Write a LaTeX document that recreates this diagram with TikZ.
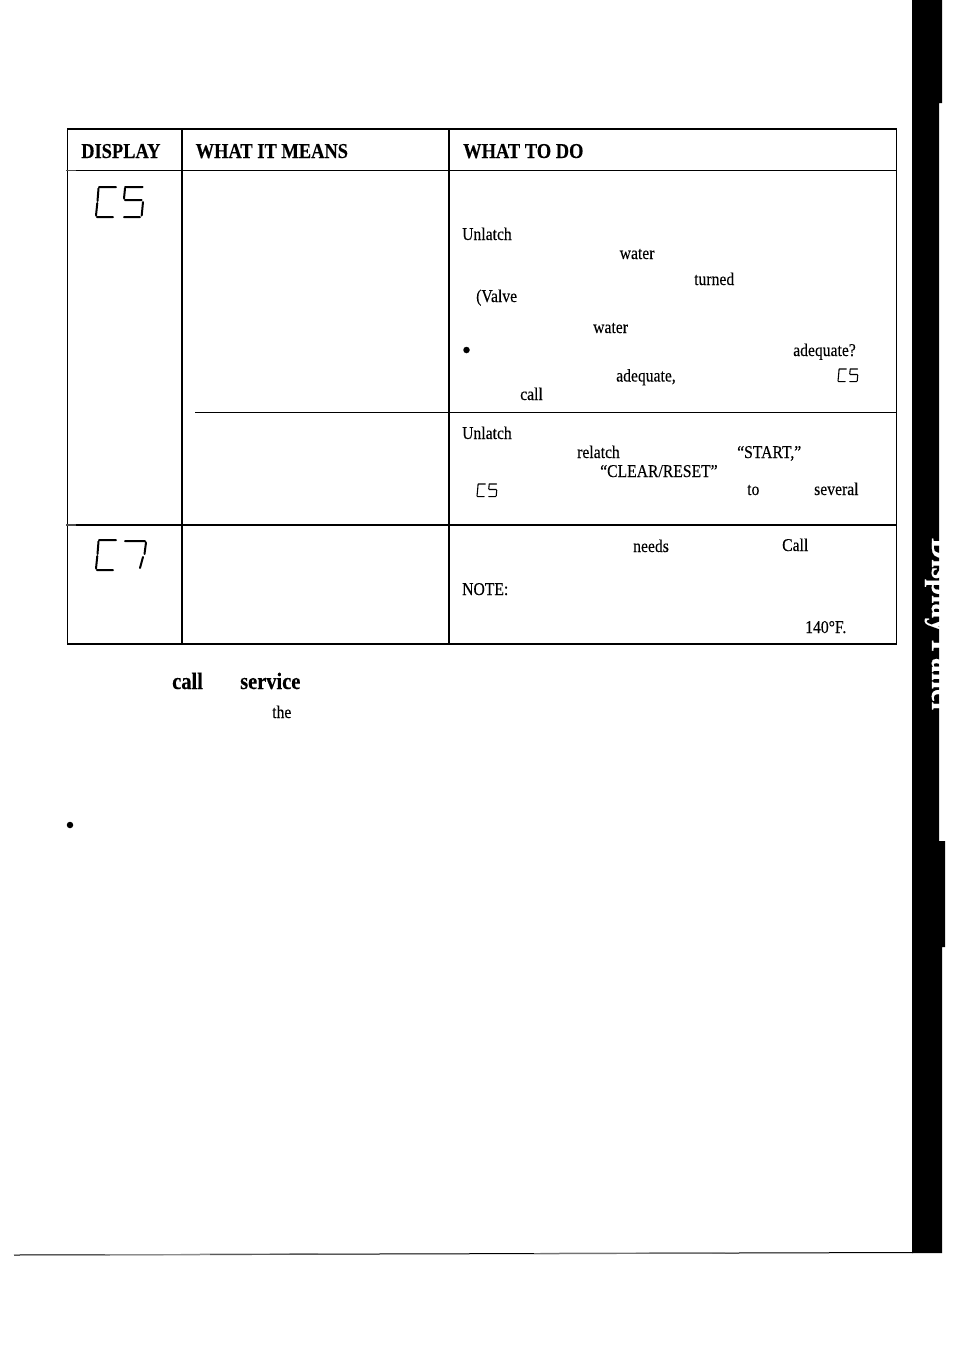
\documentclass[tikz,border=0pt]{standalone}
\usepackage{fontspec}
\setmainfont[FakeStretch=0.87,FakeBold=0.2]{Liberation Serif}
\newcommand{\lcdC}[4]{\begin{scope}[shift={(#1,#2)},scale=#3]
\draw[lcdline,line width=#4] (3,0) -- (20,0) (2.5,1.5) -- (1.5,14) (1.3,16) -- (0,28.5) (1,30) -- (17,30);
\end{scope}}
\newcommand{\lcdS}[4]{\begin{scope}[shift={(#1,#2)},scale=#3]
\draw[lcdline,line width=#4] (29,0) -- (46.7,0) (29,1.5) -- (28,11.5) (29,13) -- (45.7,13) (47,15) -- (45.7,28.5) (44,30) -- (28,30);
\end{scope}}
\begin{document}
\begin{tikzpicture}[x=1pt,y=-1pt,
  lcdline/.style={line cap=round,line join=round},
  bodytext/.style={anchor=base west,inner sep=0pt,font=\fontsize{18}{18}\selectfont},
  headtext/.style={anchor=base west,inner sep=0pt,font=\fontsize{21.2}{21}\selectfont\bfseries},
  bigtext/.style={anchor=base west,inner sep=0pt,font=\fontsize{23.5}{24}\selectfont\bfseries},
  dotmark/.style={circle,fill=black,inner sep=0pt,minimum size=6.5pt}]
\useasboundingbox (0,0) rectangle (954,1345);
% side tab
\fill[black] (912,0) -- (942,0) -- (942,103) -- (939,103) -- (939,841) -- (945,841) -- (945,947) -- (942,947) -- (942,1253) -- (912,1253) -- cycle;
\node[anchor=base west,inner sep=0pt,rotate=-90,text=white,font=\fontsize{33.7}{34}\selectfont\bfseries] (tabtitle) at (932,538) {Display Panel};
% table
\draw[line width=1.8] (67,129) -- (896.5,129);
\draw[line width=1] (67,170.5) -- (896.5,170.5);
\draw[line width=1] (195,412) -- (896.5,412);
\draw[line width=1.8] (67,525) -- (896.5,525);
\draw[line width=1.8] (67,644) -- (896.5,644);
\draw[line width=1] (67.5,129) -- (67.5,645);
\draw[line width=1.8] (182,129) -- (182,644);
\draw[line width=1.8] (449,129) -- (449,644);
\draw[line width=1.2] (896.5,129) -- (896.5,644);
\foreach \y in {170.5,525}
  \draw[line width=1.5,black!70] (66,\y) -- (76,\y);
% header
\node[headtext] (headdisplay) at (81,158) {DISPLAY};
\node[headtext] (headmeans) at (195.5,158) {WHAT IT MEANS};
\node[headtext] (headdo) at (463,158) {WHAT TO DO};
% display codes
\lcdC{96}{187}{1}{2}
\lcdS{96}{187}{1}{2}
\lcdC{96}{540}{1}{2}
\draw[lcdline,line width=2] (125,541) -- (145,541) (146,542.5) -- (144.5,554) (143,557) -- (140,568);
\lcdC{838}{369}{0.42}{1.1}
\lcdS{838}{369}{0.42}{1.1}
\lcdC{477}{484}{0.42}{1.1}
\lcdS{477}{484}{0.42}{1.1}
% first row
\node[bodytext] (unlatcha) at (462,240) {Unlatch};
\node[bodytext] (watera) at (619.5,259) {water};
\node[bodytext] (turned) at (694,285) {turned};
\node[bodytext] (valve) at (476,302) {(Valve};
\node[bodytext] (waterb) at (593,333) {water};
\node[dotmark] (dota) at (466.5,350) {};
\node[bodytext] (adequatea) at (793,356) {adequate?};
\node[bodytext] (adequateb) at (616,381.5) {adequate,};
\node[bodytext] (calla) at (520,400) {call};
% second row
\node[bodytext] (unlatchb) at (462,439) {Unlatch};
\node[bodytext] (relatch) at (577,458) {relatch};
\node[bodytext] (start) at (737,458) {“START,”};
\node[bodytext] (clear) at (600,477) {“CLEAR/RESET”};
\node[bodytext] (towards) at (747,495) {to};
\node[bodytext] (several) at (814,495) {several};
% third row
\node[bodytext] (needs) at (633,552) {needs};
\node[bodytext] (callb) at (782,551) {Call};
\node[bodytext] (note) at (462,595) {NOTE:};
\node[bodytext] (temp) at (805,633) {140°F.};
% below the table
\node[bigtext] (callc) at (172,689) {call};
\node[bigtext] (service) at (240,689) {service};
\node[bodytext] (the) at (272,718) {the};
\node[dotmark] (dotb) at (70,825) {};
% rule at the foot of the page
\draw[line width=1] (14,1255) -- (913,1252.5);
\draw[line width=1.2,black!45] (105,1254.8) -- (210,1254.5);
\draw[line width=1.2,black!65] (210,1254.5) -- (318,1254.2);
\draw[line width=1.2,black!55] (534,1253.6) -- (725,1253.1);
\end{tikzpicture}
\end{document}
